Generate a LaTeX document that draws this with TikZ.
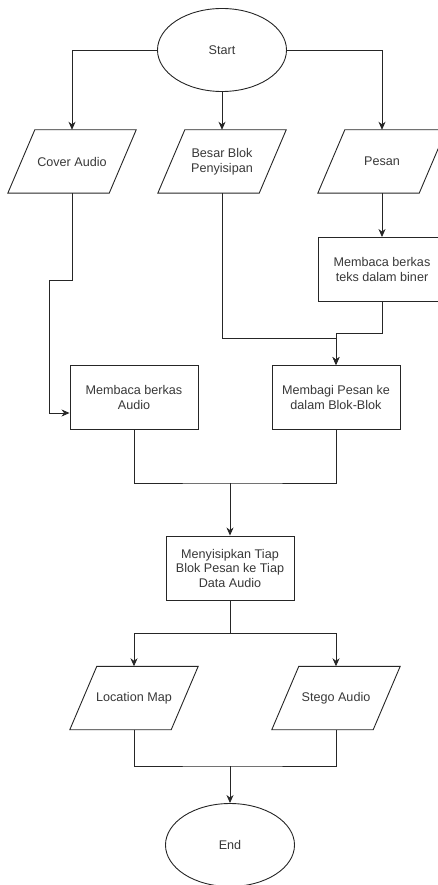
\documentclass[tikz,border=0pt]{standalone}
\usepackage{fontspec}
\setmainfont{Liberation Sans}
\usetikzlibrary{arrows.meta,shapes.geometric,calc}
\tikzset{
  x=1pt,y=-1pt,
  line/.style={draw=black!85, line width=0.9pt},
  arr/.style={line, -{Stealth[length=8pt,width=7pt,inset=2.5pt]}},
  txt/.style={text=black!78, font=\fontsize{12.6}{14.5}\selectfont, align=center},
  term/.style={ellipse, line, txt, minimum width=129pt, minimum height=83pt, inner sep=0pt},
  proc/.style={rectangle, line, txt, minimum width=128pt, minimum height=64pt, inner sep=1pt},
  io/.style={rectangle, draw=none, txt, minimum width=128pt, minimum height=63pt, inner sep=0pt},
}
\newcommand{\paragram}[1]{\draw[line] ([xshift=27pt]#1.north west) -- (#1.north east) -- ([xshift=-27pt]#1.south east) -- (#1.south west) -- cycle;}
\begin{document}
\begin{tikzpicture}
\useasboundingbox (0,0) rectangle (438,885);
\node[term] (start) at (222,50) {Start};
\node[io] (cover) at (72,161.5) {Cover Audio};
\node[io] (besar) at (222,161.5) {Besar Blok\\Penyisipan};
\node[io] (pesan) at (382,161.5) {Pesan};
\paragram{cover}\paragram{besar}\paragram{pesan}
\node[proc] (biner) at (382,269.5) {Membaca berkas\\teks dalam biner};
\node[proc] (audio) at (134,397.5) {Membaca berkas\\Audio};
\node[proc] (bagi) at (336,397.5) {Membagi Pesan ke\\dalam Blok-Blok};
\node[proc] (sisip) at (230,568) {Menyisipkan Tiap\\Blok Pesan ke Tiap\\Data Audio};
\node[io] (loc) at (134,698) {Location Map};
\node[io] (stego) at (336,698) {Stego Audio};
\paragram{loc}\paragram{stego}
\node[term] (end) at (230,845) {End};

\coordinate (j1) at (230,483);
\coordinate (j2) at (230,633);
\coordinate (j3) at (230,766);

\draw[arr] (start.west) -| (cover.north);
\draw[arr] (start.south) -- (besar.north);
\draw[arr] (start.east) -| (pesan.north);
\draw[arr] (pesan.south) -- (biner.north);
\draw[arr] (cover.south) -- (72,280) -- (49,280) |- ([yshift=-15.5pt]audio.west);
\draw[arr] (besar.south) |- (336,338) -- (bagi.north);
\draw[arr] (biner.south) |- (336,333) -- (bagi.north);
\draw[line] (audio.south) |- (j1) -| (bagi.south);
\draw[arr] (j1) -- (sisip.north);
\draw[line] (sisip.south) -- (j2);
\draw[arr] (j2) -| (loc.north);
\draw[arr] (j2) -| (stego.north);
\draw[line] (loc.south) |- (j3) -| (stego.south);
\draw[arr] (j3) -- (end.north);
\end{tikzpicture}
\end{document}
